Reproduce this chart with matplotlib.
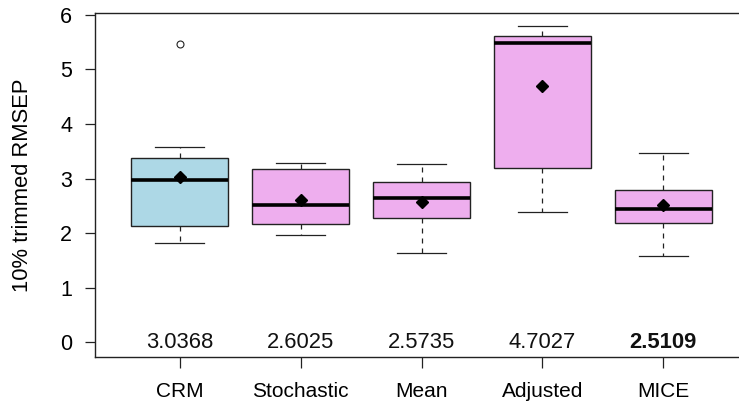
import matplotlib
matplotlib.use("Agg")
import matplotlib.pyplot as plt

# Imputation methods and the five-number summaries of their 10% trimmed RMSEP
methods = ["CRM", "Stochastic", "Mean", "Adjusted", "MICE"]
whisker_low = [1.82, 1.96, 1.64, 2.39, 1.59]
quartile_1 = [2.14, 2.17, 2.28, 3.19, 2.19]
medians = [2.97, 2.52, 2.64, 5.49, 2.45]
quartile_3 = [3.38, 3.17, 2.94, 5.62, 2.80]
whisker_high = [3.58, 3.28, 3.26, 5.80, 3.47]
outliers = [[5.47], [], [], [], []]
means = [3.0368, 2.6025, 2.5735, 4.7027, 2.5109]
box_colors = ["#ADD8E6", "#EEAEEE", "#EEAEEE", "#EEAEEE", "#EEAEEE"]
best = "MICE"

plt.rcParams["font.family"] = ["Liberation Sans", "DejaVu Sans"]

fig = plt.figure(figsize=(7.39, 4.03), dpi=100)
ax = fig.add_axes([95 / 739, 46 / 403, 653 / 739, 343.7 / 403])

stats = []
for i, name in enumerate(methods):
    stats.append(dict(label=name, whislo=whisker_low[i], q1=quartile_1[i],
                      med=medians[i], q3=quartile_3[i], whishi=whisker_high[i],
                      fliers=outliers[i], mean=means[i]))

positions = list(range(1, len(methods) + 1))
bp = ax.bxp(stats, positions=positions, widths=0.8, patch_artist=True,
            showmeans=True, capwidths=0.4,
            boxprops=dict(edgecolor="#222222", linewidth=1.0),
            medianprops=dict(color="black", linewidth=2.6, solid_capstyle="butt"),
            whiskerprops=dict(color="#222222", linewidth=0.9, linestyle=(0, (4, 4))),
            capprops=dict(color="#222222", linewidth=0.9),
            flierprops=dict(marker="o", markersize=5, markerfacecolor="none",
                            markeredgecolor="#222222", markeredgewidth=0.8),
            meanprops=dict(marker="D", markersize=6, markerfacecolor="black",
                           markeredgecolor="black"))
for patch, c in zip(bp["boxes"], box_colors):
    patch.set_facecolor(c)

# mean values written along the zero line
for x, name, m in zip(positions, methods, means):
    ax.text(x, 0, f"{m:.4f}", ha="center", va="center", fontsize=15.8,
            fontweight="bold" if name == best else "normal", color="#111111")

ax.set_xlim(0.3, 5.7)
ax.set_ylim(-0.27, 6.03)
ax.set_yticks([0, 1, 2, 3, 4, 5, 6])
ax.set_xticks(positions)
ax.set_xticklabels(methods)
ax.tick_params(axis="y", length=7.5, width=0.9, pad=9, labelsize=15.5, color="#222222")
ax.tick_params(axis="x", length=8, width=0.9, pad=10, labelsize=15, color="#222222")
for s in ax.spines.values():
    s.set_linewidth(1.0)
    s.set_color("#222222")

ax.set_ylabel("10% trimmed RMSEP", fontsize=15.8)
ax.yaxis.set_label_coords(-72 / 653, 0.5)
ax.yaxis.label.set_verticalalignment("center")

fig.savefig("out.png", dpi=100)
